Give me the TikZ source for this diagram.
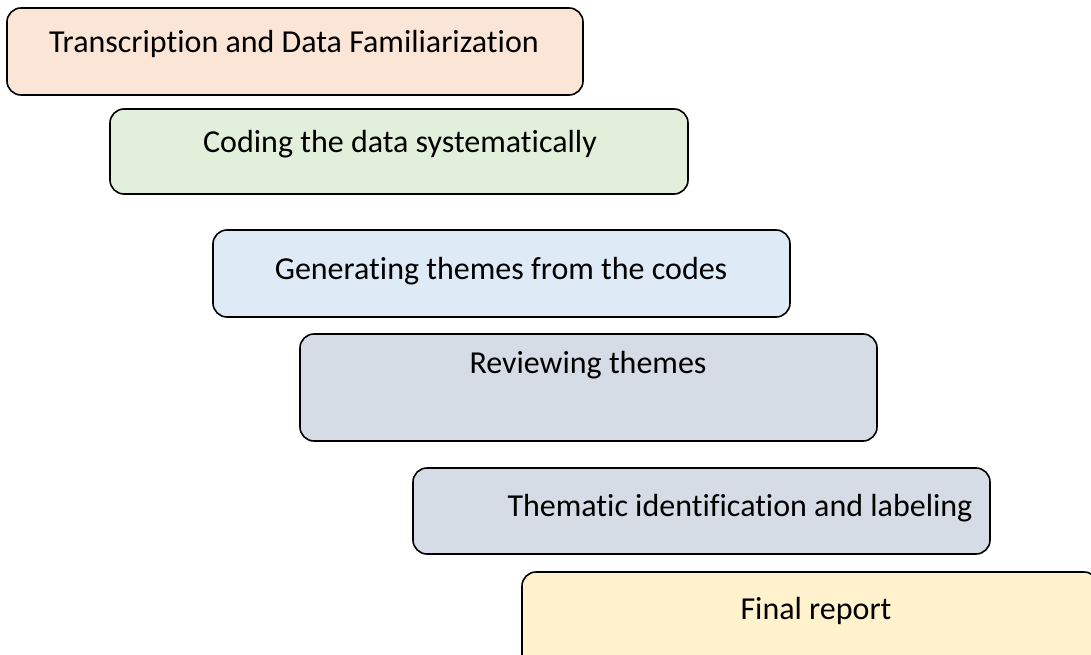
\documentclass[tikz,border=0pt]{standalone}
\usepackage{fontspec}
\setmainfont[Ligatures={NoCommon},RawFeature={-calt;-dlig}]{Carlito}
\definecolor{peach}{HTML}{FBE5D6}
\definecolor{sage}{HTML}{E2EFDA}
\definecolor{skyblue}{HTML}{DEEBF7}
\definecolor{slate}{HTML}{D6DCE5}
\definecolor{cream}{HTML}{FFF2CC}
\tikzset{
  stage/.style={draw=black, line width=1.6pt, rounded corners=14pt,
    rectangle, anchor=north west, inner sep=0pt, outer sep=0pt},
  caption/.style={anchor=base, inner sep=0pt,
    font=\fontsize{32}{38}\selectfont}
}
\begin{document}
\begin{tikzpicture}[x=1pt,y=-1pt]
\useasboundingbox (0,0) rectangle (1091,655);
\begin{scope}
\clip (0,0) rectangle (1091,655);
\node[stage, fill=peach,   minimum width=576pt, minimum height=87pt]  (s1) at (7,8) {};
\node[stage, fill=sage,    minimum width=578pt, minimum height=85pt]  (s2) at (110,109) {};
\node[stage, fill=skyblue, minimum width=577pt, minimum height=87pt]  (s3) at (213,230) {};
\node[stage, fill=slate,   minimum width=577pt, minimum height=107pt] (s4) at (300,334) {};
\node[stage, fill=slate,   minimum width=577pt, minimum height=86pt]  (s5) at (413,468) {};
\node[stage, fill=cream,   minimum width=576pt, minimum height=110pt] (s6) at (522,572) {};
\end{scope}
\node[caption] (t1) at (294,53)  {Transcription and Data Familiarization};
\node[caption] (t2) at (400,153) {Coding the data systematically};
\node[caption] (t3) at (501,279) {Generating themes from the codes};
\node[caption] (t4) at (588,373) {Reviewing themes};
\node[caption] (t5) at (740,516) {Thematic identification and labeling};
\node[caption] (t6) at (816,619) {Final report};
\end{tikzpicture}
\end{document}
